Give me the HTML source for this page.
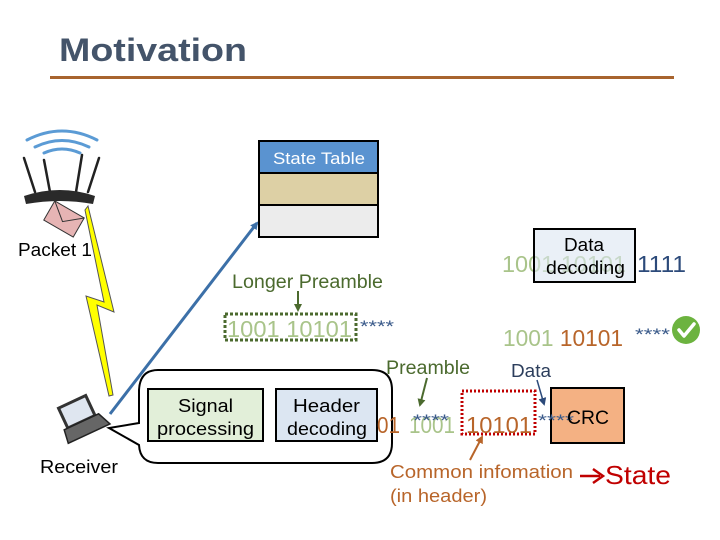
<!DOCTYPE html>
<html><head><meta charset="utf-8"><style>
html,body{margin:0;padding:0;background:#fff;}
svg{display:block;font-family:"Liberation Sans",Arial,sans-serif;}
</style></head><body>
<svg width="720" height="540" viewBox="0 0 720 540" xmlns="http://www.w3.org/2000/svg">
<defs>
<marker id="ab" markerWidth="8" markerHeight="8" refX="6" refY="4" orient="auto" markerUnits="userSpaceOnUse"><path d="M0,0 L8,4 L0,8 z" fill="#3c70a8"/></marker>
<marker id="ag" markerWidth="8" markerHeight="8" refX="6" refY="4" orient="auto" markerUnits="userSpaceOnUse"><path d="M0,0 L8,4 L0,8 z" fill="#4b6a2e"/></marker>
<marker id="ad" markerWidth="8" markerHeight="8" refX="6" refY="4" orient="auto" markerUnits="userSpaceOnUse"><path d="M0,0 L8,4 L0,8 z" fill="#2c4a7a"/></marker>
<marker id="ao" markerWidth="8" markerHeight="8" refX="6" refY="4" orient="auto" markerUnits="userSpaceOnUse"><path d="M0,0 L8,4 L0,8 z" fill="#b8652a"/></marker>
</defs>
<!-- title -->
<text x="59" y="61" font-size="32" font-weight="bold" fill="#44546a" textLength="188" lengthAdjust="spacingAndGlyphs">Motivation</text>
<rect x="50" y="76" width="624" height="3" fill="#a8642e"/>

<!-- router -->
<g fill="none" stroke="#5b9bd5" stroke-width="3" stroke-linecap="round">
<path d="M27,140 Q62,122 97,140"/><path d="M35,147 Q62,134 89,147"/><path d="M44,153 Q62,145 80,153"/>
</g>
<g stroke="#222" stroke-width="2.5" stroke-linecap="round">
<line x1="24" y1="158" x2="35" y2="192"/><line x1="44" y1="160" x2="50" y2="192"/><line x1="82" y1="155" x2="76" y2="192"/><line x1="99" y1="158" x2="88" y2="192"/>
</g>
<path d="M24,196 Q60,184 95,196 L93,204 Q60,198 26,204 Z" fill="#2a2a2a"/>
<!-- envelope -->
<g transform="translate(64,219) rotate(30)"><rect x="-17" y="-11" width="34" height="22" fill="#e6b4b4" stroke="#333" stroke-width="1"/><path d="M-17,-11 L0,3 L17,-11" fill="none" stroke="#333" stroke-width="1"/></g>
<text x="18" y="256" font-size="18" fill="#000" textLength="74" lengthAdjust="spacingAndGlyphs">Packet 1</text>

<!-- lightning -->
<path d="M88,206 L114,312 L97,305 L113,395 L109,396 L86,296 L104,302 L85,210 Z" fill="#ffff00" stroke="#555" stroke-width="1"/>

<!-- blue arrow -->
<line x1="110" y1="414" x2="257" y2="223" stroke="#3c70a8" stroke-width="3" marker-end="url(#ab)"/>

<!-- state table -->
<rect x="259" y="141" width="119" height="32" fill="#5a93d0"/>
<rect x="259" y="173" width="119" height="32" fill="#ddd0a5"/>
<rect x="259" y="205" width="119" height="32" fill="#ececec"/>
<g stroke="#000" stroke-width="2" fill="none"><rect x="259" y="141" width="119" height="96"/><line x1="259" y1="173" x2="378" y2="173"/><line x1="259" y1="205" x2="378" y2="205"/></g>
<text x="273" y="164" font-size="17" fill="#fff" textLength="92" lengthAdjust="spacingAndGlyphs">State Table</text>

<!-- longer preamble -->
<text x="232" y="288" font-size="19" fill="#4b6a2e" textLength="151" lengthAdjust="spacingAndGlyphs">Longer Preamble</text>
<line x1="298" y1="291" x2="298" y2="310" stroke="#4b6a2e" stroke-width="2" marker-end="url(#ag)"/>
<rect x="225" y="314" width="131" height="26" fill="none" stroke="#4b6a2e" stroke-width="3" stroke-dasharray="3,2"/>
<text x="227" y="337" font-size="23" fill="#a9c48a" textLength="125" lengthAdjust="spacingAndGlyphs">1001 10101</text>
<text x="360" y="332" font-size="17" fill="#3a5a8a" textLength="34" lengthAdjust="spacingAndGlyphs">****</text>

<!-- data decoding -->
<text x="502" y="272" font-size="23" fill="#a9c48a" textLength="124" lengthAdjust="spacingAndGlyphs">1001 10101</text>
<text x="637" y="272" font-size="23" fill="#2c4a7a" textLength="49" lengthAdjust="spacingAndGlyphs">1111</text>
<rect x="534" y="229" width="101" height="53" fill="#dce6f2" fill-opacity="0.6" stroke="#000" stroke-width="2"/>
<text x="564" y="251" font-size="18" textLength="40" lengthAdjust="spacingAndGlyphs">Data</text>
<text x="546" y="274" font-size="18" textLength="79" lengthAdjust="spacingAndGlyphs">decoding</text>

<!-- check row -->
<text x="503" y="346" font-size="23" fill="#a9c48a" textLength="120" lengthAdjust="spacingAndGlyphs">1001 <tspan fill="#b8652a">10101</tspan></text>
<text x="635" y="340" font-size="17" fill="#3a5a8a" textLength="35" lengthAdjust="spacingAndGlyphs">****</text>
<circle cx="686" cy="330" r="14" fill="#6cb33f"/>
<path d="M679,330 L684,336 L694,324" fill="none" stroke="#fff" stroke-width="3.5" stroke-linecap="round" stroke-linejoin="round"/>

<text x="386" y="374" font-size="19" fill="#4b6a2e" textLength="84" lengthAdjust="spacingAndGlyphs">Preamble</text>
<text x="511" y="377" font-size="18" fill="#2c3e5c" textLength="40" lengthAdjust="spacingAndGlyphs">Data</text>
<line x1="427" y1="378" x2="420" y2="405" stroke="#4b6a2e" stroke-width="2" marker-end="url(#ag)"/>
<line x1="537" y1="380" x2="544" y2="404" stroke="#2c4a7a" stroke-width="1.5" marker-end="url(#ad)"/>

<!-- bubble -->
<path d="M158,370 L372,370 Q392,370 392,390 L392,443 Q392,463 372,463 L158,463 Q140,463 139,445 L109,428 L139,423 L139,390 Q140,370 158,370 Z" fill="#fff" stroke="#000" stroke-width="2"/>
<rect x="148" y="389" width="115" height="52" fill="#e2efd9" stroke="#000" stroke-width="2"/>
<text x="178" y="412" font-size="18" textLength="55" lengthAdjust="spacingAndGlyphs">Signal</text>
<text x="157" y="435" font-size="18" textLength="97" lengthAdjust="spacingAndGlyphs">processing</text>
<rect x="276" y="389" width="101" height="52" fill="#dce6f2" stroke="#000" stroke-width="2"/>
<text x="293" y="412" font-size="18" textLength="67" lengthAdjust="spacingAndGlyphs">Header</text>
<text x="287" y="435" font-size="18" textLength="80" lengthAdjust="spacingAndGlyphs">decoding</text>

<!-- laptop -->
<g transform="translate(84,425) rotate(-25)">
<rect x="-16" y="-26" width="30" height="22" fill="#dfe6f0" stroke="#333" stroke-width="3"/>
<path d="M-20,-4 L18,-4 L24,10 L-22,10 Z" fill="#666" stroke="#222" stroke-width="1.5"/>
</g>
<text x="40" y="473" font-size="18" textLength="78" lengthAdjust="spacingAndGlyphs">Receiver</text>

<!-- header row -->
<text x="377" y="433" font-size="23" fill="#b8652a" textLength="23" lengthAdjust="spacingAndGlyphs">01</text>
<text x="409" y="433" font-size="23" fill="#a9c48a" textLength="46" lengthAdjust="spacingAndGlyphs">1001</text>
<text x="413" y="426" font-size="17" fill="#3a5a8a" textLength="36" lengthAdjust="spacingAndGlyphs">****</text>
<rect x="462" y="391" width="73" height="43" fill="none" stroke="#c00000" stroke-width="3" stroke-dasharray="2,2"/>
<text x="466" y="433" font-size="23" fill="#b8652a" textLength="66" lengthAdjust="spacingAndGlyphs">10101</text>
<rect x="551" y="388" width="73" height="55" fill="#f4b183" stroke="#000" stroke-width="2"/>
<text x="538" y="426" font-size="17" fill="#3a5a8a" textLength="36" lengthAdjust="spacingAndGlyphs">****</text>
<text x="567" y="424" font-size="19" textLength="42" lengthAdjust="spacingAndGlyphs">CRC</text>

<line x1="470" y1="460" x2="482" y2="437" stroke="#b8652a" stroke-width="2" marker-end="url(#ao)"/>
<text x="390" y="478" font-size="18" fill="#b8652a" textLength="183" lengthAdjust="spacingAndGlyphs">Common infomation</text>
<text x="390" y="502" font-size="18" fill="#b8652a" textLength="97" lengthAdjust="spacingAndGlyphs">(in header)</text>
<line x1="580" y1="476" x2="600" y2="476" stroke="#c00000" stroke-width="2.5"/>
<path d="M593,469 L603,476 L593,483" fill="none" stroke="#c00000" stroke-width="2.5"/>
<text x="605" y="484" font-size="26" fill="#c00000" textLength="66" lengthAdjust="spacingAndGlyphs">State</text>
</svg>
</body></html>
